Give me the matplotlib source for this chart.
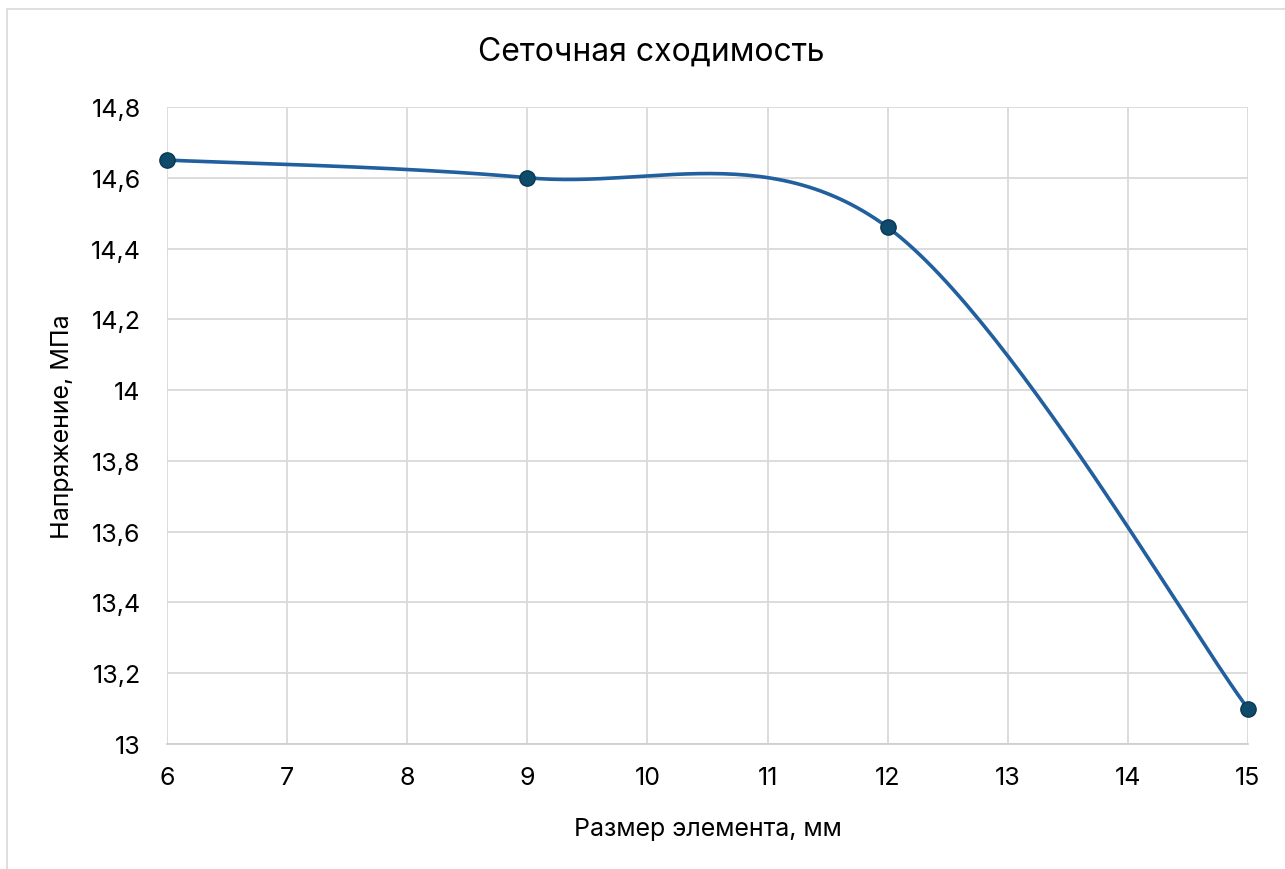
import numpy as np
import matplotlib
matplotlib.use("Agg")
import matplotlib.pyplot as plt
from matplotlib.patches import Rectangle

plt.rcParams['font.family'] = ['Inter', 'DejaVu Sans']

# Mesh convergence data
element_size = [6, 9, 12, 15]
stress = [14.65, 14.60, 14.46, 13.10]
y_ticks = [13.0, 13.2, 13.4, 13.6, 13.8, 14.0, 14.2, 14.4, 14.6, 14.8]
y_tick_labels = ["13", "13,2", "13,4", "13,6", "13,8", "14", "14,2", "14,4", "14,6", "14,8"]
x_ticks = [6, 7, 8, 9, 10, 11, 12, 13, 14, 15]

title = "Сеточная сходимость"
x_label = "Размер элемента, мм"
y_label = "Напряжение, МПа"


def smooth_curve(xs, ys, n=60):
    """Cubic Bezier smoothing through every point (Catmull-Rom tangents)."""
    pts = np.column_stack([xs, ys]).astype(float)
    out = []
    for i in range(len(pts) - 1):
        p0 = pts[i - 1] if i > 0 else pts[i]
        p1 = pts[i]
        p2 = pts[i + 1]
        p3 = pts[i + 2] if i + 2 < len(pts) else pts[i + 1]
        c1 = p1 + (p2 - p0) / 6.0
        c2 = p2 - (p3 - p1) / 6.0
        t = np.linspace(0, 1, n)[:, None]
        seg = ((1 - t) ** 3) * p1 + 3 * ((1 - t) ** 2) * t * c1 + 3 * (1 - t) * t ** 2 * c2 + t ** 3 * p2
        out.append(seg if i == 0 else seg[1:])
    seg_all = np.vstack(out)
    return seg_all[:, 0], seg_all[:, 1]


fig = plt.figure(figsize=(12.85, 8.7), dpi=100)
ax = fig.add_axes([0.1300, 0.1437, 0.8412, 0.7322])

# outer chart frame
fig.patches.append(Rectangle((7 / 1285, -0.01), 1.2, 1 - 10 / 870 + 0.01,
                             transform=fig.transFigure, fill=False,
                             edgecolor="#d9d9d9", linewidth=1.2))

sx, sy = smooth_curve(element_size, stress)
ax.plot(sx, sy, color="#225f9e", linewidth=2.6, solid_capstyle="round", zorder=3)
ax.plot(element_size, stress, linestyle="none", marker="o", markersize=11,
        markerfacecolor="#0e4a6a", markeredgecolor="#0b3650", markeredgewidth=1.0,
        zorder=4, clip_on=False)

ax.set_xlim(6, 15)
ax.set_ylim(13, 14.8)
ax.set_xticks(x_ticks)
ax.set_xticklabels([str(v) for v in x_ticks])
ax.set_yticks(y_ticks)
ax.set_yticklabels(y_tick_labels)

ax.grid(True, color="#d9d9d9", linewidth=1.3)
ax.set_axisbelow(True)
for side in ("top", "right", "left"):
    ax.spines[side].set_visible(False)
ax.spines["bottom"].set_color("#cfcfcf")
ax.spines["bottom"].set_linewidth(1.3)
ax.tick_params(axis="both", length=0, labelsize=18, colors="#000000")
ax.tick_params(axis="x", pad=16)
ax.tick_params(axis="y", pad=19)

# chart title centred over the whole chart area
fig.text(651 / 1285, 1 - 52 / 870, title, fontsize=23, ha="center", va="center")
ax.set_xlabel(x_label, fontsize=18, labelpad=20)
ax.set_ylabel(y_label, fontsize=18, labelpad=12)

fig.savefig("out.png", dpi=100, facecolor="white")
